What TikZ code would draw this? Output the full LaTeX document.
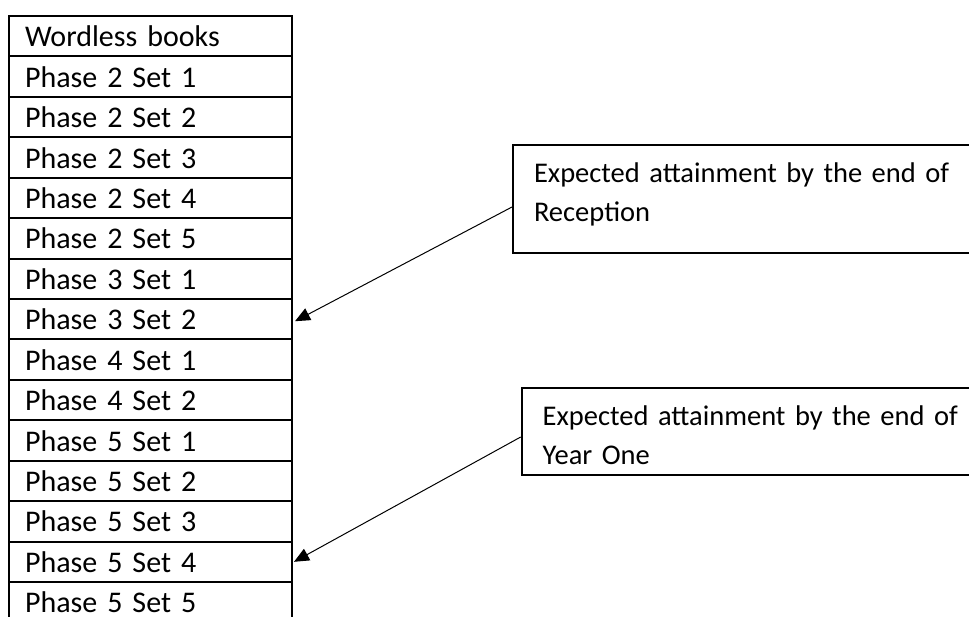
\documentclass[tikz,border=0pt]{standalone}
\usepackage{fontspec}
\setmainfont{Carlito}[WordSpace=0.85]
\usetikzlibrary{arrows.meta}

\begin{document}
\begin{tikzpicture}
[x=1pt,y=-1pt,
  rowBox/.style={draw,line width=2pt,minimum height=40.43pt,inner ysep=0pt,
    inner xsep=16pt,text width=251pt,align=left,text height=24pt,text depth=3pt,
    font=\fontsize{30}{39}\selectfont},
  noteBox/.style={draw,line width=2pt,anchor=west,inner ysep=0pt,inner xsep=21pt,
    text width=470pt,align=left,font=\fontsize{28.5}{39}\selectfont},
  pointer/.style={line width=1pt,-{Triangle[length=15pt,width=13pt]}}]
\useasboundingbox (0,0) rectangle (969,617);
%% reading levels
\foreach \lab [count=\i] in {Wordless books, Phase 2 Set 1, Phase 2 Set 2,
  Phase 2 Set 3, Phase 2 Set 4, Phase 2 Set 5, Phase 3 Set 1, Phase 3 Set 2,
  Phase 4 Set 1, Phase 4 Set 2, Phase 5 Set 1, Phase 5 Set 2, Phase 5 Set 3,
  Phase 5 Set 4, Phase 5 Set 5}
{
  \node (r\i) at (150.5,{16+(\i-0.5)*40.43}) [rowBox] {\lab};
}
%% notes
\node (rec) at (512,199) [noteBox,minimum height=108pt,text height=22pt,text depth=54pt]
  {Expected attainment by the end of\\Reception};
\node (yr1) at (520.7,431.5) [noteBox,minimum height=87pt,text height=26pt,text depth=39pt]
  {Expected attainment by the end of\\Year One};
\coordinate (recFoot) at ([yshift=-8pt]rec.west);
\coordinate (yr1Foot) at ([yshift=-5.5pt]yr1.west);
%% pointers
\draw[pointer] (recFoot) -- ([shift={(2,2)}]r8.east);
\draw[pointer] (yr1Foot) -- ([shift={(1,0)}]r14.east);
\end{tikzpicture}
\end{document}
